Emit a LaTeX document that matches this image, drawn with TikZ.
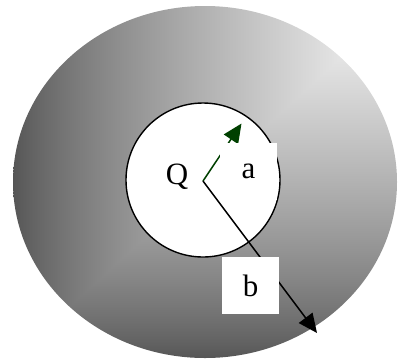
\documentclass[tikz,border=0pt]{standalone}
\usepackage{fontspec}
\setmainfont{Liberation Serif}
\usetikzlibrary{arrows.meta}
\definecolor{dgreen}{RGB}{0,64,0}
% gradient from the top-right corner: grey level depends on max(horizontal, vertical) distance
\pgfdeclarefunctionalshading{cornergrad}{\pgfpoint{0bp}{0bp}}{\pgfpoint{100bp}{100bp}}{}{
  75 exch sub exch 75 exch sub
  2 copy lt {exch} if pop
  50 div
  dup 1 gt {pop 1} if
  dup 0 lt {pop 0} if
  1 exch sub 0.8 exp
  0.64 mul 0.33 add
  dup dup
}
\tikzset{
  lbl/.style={font=\fontsize{31}{34}\selectfont, inner sep=0pt},
  labelbox/.style={lbl, fill=white, minimum width=57pt, minimum height=57pt},
  radius arrow/.style={line width=1.5pt, -{Triangle[length=19pt,width=17pt]}},
}
\begin{document}
\begin{tikzpicture}[x=1pt,y=-1pt]
\useasboundingbox (0,0) rectangle (398,360);
% shaded outer disc
\shade[shading=cornergrad] (205,182) ellipse [x radius=192pt, y radius=176pt];
% inner conductor
\node[draw=black, fill=white, circle, line width=1.4pt, minimum size=154pt, inner sep=0pt] (inner) at (203,180) {};
\coordinate (O) at (203,181);
\coordinate (A) at (241.5,123.5);
\coordinate (B) at (317,333);
\draw[radius arrow, draw=dgreen, fill=dgreen] (O) -- (A);
\draw[radius arrow, draw=black] (O) -- (B);
\node[lbl] (Q) at (177,177) {Q};
\node[labelbox] (a) at (248.5,171.5) {a};
\node[labelbox] (b) at (250.5,285.5) {b};
\end{tikzpicture}
\end{document}
